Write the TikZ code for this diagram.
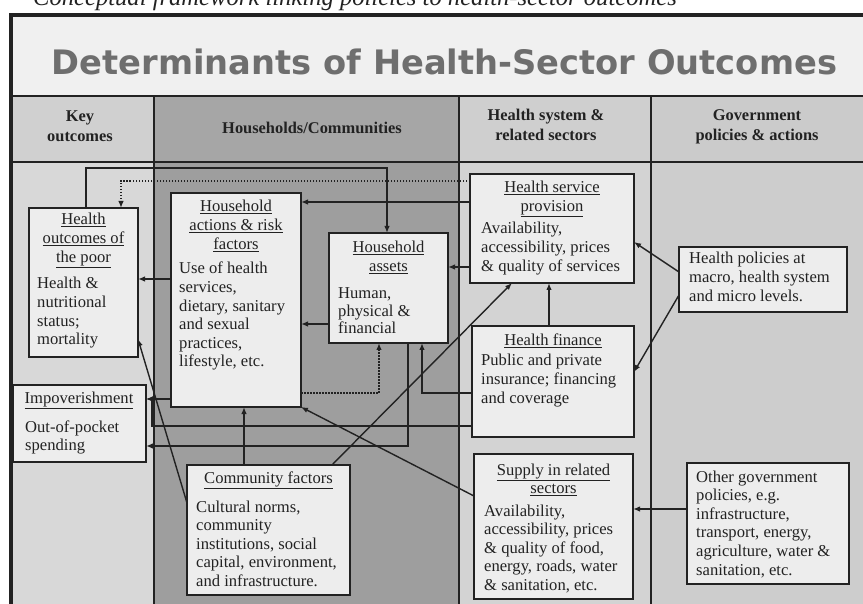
\documentclass[tikz,border=0pt]{standalone}
\usepackage{fontspec}
\setmainfont{Liberation Serif}
\newfontfamily\titlefont{DejaVu Sans}
\usetikzlibrary{arrows.meta}

\definecolor{ink}{HTML}{222222}
\definecolor{titlegray}{HTML}{6E6E6E}
\definecolor{titlebg}{HTML}{F0F0F0}
\definecolor{keycol}{HTML}{D8D8D8}
\definecolor{keyhead}{HTML}{D0D0D0}
\definecolor{hhcol}{HTML}{9E9E9E}
\definecolor{hhhead}{HTML}{A6A6A6}
\definecolor{hscol}{HTML}{D3D3D3}
\definecolor{hshead}{HTML}{CFCFCF}
\definecolor{govcol}{HTML}{CDCDCD}
\definecolor{govhead}{HTML}{CBCBCB}
\definecolor{boxfill}{HTML}{EDEDED}

\tikzset{
  x=1pt, y=-1pt,
  box/.style={draw=ink, line width=1.6pt, fill=boxfill, inner sep=0pt, outer sep=0pt, anchor=north west},
  conn/.style={draw=ink, line width=1.4pt, -{Latex[length=7pt,width=5.5pt]}},
  dotconn/.style={conn, dash pattern=on 1.5pt off 1.5pt},
  bodytxt/.style={inner sep=0pt, anchor=base west, text=ink, font=\fontsize{16.6}{18.6}\selectfont},
  ttltxt/.style={inner sep=0pt, anchor=base, text=ink, font=\fontsize{16.6}{18.6}\selectfont},
  headtxt/.style={inner sep=0pt, anchor=base, text=ink, font=\fontsize{16.4}{19.5}\selectfont\bfseries},
  gridline/.style={draw=ink, line width=1.4pt},
}

\begin{document}
\begin{tikzpicture}
\useasboundingbox (0,0) rectangle (863,604);
\fill[white] (0,0) rectangle (863,604);

% caption (cut off at the top of the picture)
\node[inner sep=0pt, anchor=base west, text=ink, font=\fontsize{24.6}{26}\selectfont\itshape] (caption) at (33,6) {Conceptual framework linking policies to health-sector outcomes};

% backgrounds
\fill[titlebg] (11,15) rectangle (863,96);
\fill[keyhead] (11,96) rectangle (154,162);
\fill[hhhead] (154,96) rectangle (459,162);
\fill[hshead] (459,96) rectangle (651,162);
\fill[govhead] (651,96) rectangle (863,162);
\fill[keycol] (11,162) rectangle (154,604);
\fill[hhcol] (154,162) rectangle (459,604);
\fill[hscol] (459,162) rectangle (651,604);
\fill[govcol] (651,162) rectangle (863,604);

% grid
\draw[gridline] (11,96) -- (863,96);
\draw[gridline] (11,162) -- (863,162);
\draw[gridline] (154,96) -- (154,604);
\draw[gridline] (459,96) -- (459,604);
\draw[gridline] (651,96) -- (651,604);
% frame
\draw[ink, line width=4.5pt] (11,604) -- (11,15) -- (863,15);

% title
\node[inner sep=0pt, anchor=base, text=titlegray, font=\fontsize{33.7}{36}\titlefont\bfseries] (title) at (444.5,75) {Determinants of Health-Sector Outcomes};

% headers
\node[headtxt] (hkey) at (80,122) {\parbox[t]{140pt}{\centering Key\\ outcomes}};
\node[headtxt] (hhh) at (312,134) {Households/Communities};
\node[headtxt] (hhs) at (546,121) {\parbox[t]{190pt}{\centering Health system \&\\ related sectors}};
\node[headtxt] (hgov) at (757,121) {\parbox[t]{210pt}{\centering Government\\ policies \& actions}};

% boxes
\node[box, minimum width=109pt, minimum height=149pt] (HO) at (29,208) {};
\node[box, minimum width=130pt, minimum height=214pt] (HA) at (171,193) {};
\node[box, minimum width=119pt, minimum height=110pt] (AS) at (329,233) {};
\node[box, minimum width=133pt, minimum height=77pt] (IM) at (13,385) {};
\node[box, minimum width=163pt, minimum height=130pt] (CF) at (187,465) {};
\node[box, minimum width=164pt, minimum height=109pt] (HSP) at (470,174) {};
\node[box, minimum width=162pt, minimum height=111pt] (HF) at (472,326) {};
\node[box, minimum width=159pt, minimum height=145pt] (SUP) at (474,454) {};
\node[box, minimum width=168pt, minimum height=65pt] (HP) at (679,247) {};
\node[box, minimum width=162pt, minimum height=121pt] (OG) at (687,463) {};

% box texts
\node[ttltxt] (HOt) at (83.5,225) {\parbox[t]{108pt}{\centering \underline{Health}\\ \underline{outcomes of}\\ \underline{the poor}}};
\node[bodytxt] (HOb) at (37,289) {\parbox[t]{120pt}{\raggedright Health \&\\ nutritional\\ status;\\ mortality}};

\node[ttltxt] (HAt) at (236,212) {\parbox[t]{130pt}{\centering \underline{Household}\\ \underline{actions \& risk}\\ \underline{factors}}};
\node[bodytxt] (HAb) at (179,274) {\parbox[t]{140pt}{\raggedright Use of health\\ services,\\ dietary, sanitary\\ and sexual\\ practices,\\ lifestyle, etc.}};

\node[ttltxt] (ASt) at (388.5,253) {\parbox[t]{119pt}{\centering \underline{Household}\\ \underline{assets}}};
\node[bodytxt, font=\fontsize{16.6}{17.2}\selectfont] (ASb) at (338,299) {\parbox[t]{120pt}{\raggedright Human,\\ physical \&\\ financial}};

\node[ttltxt] (IMt) at (79,403) {\underline{Impoverishment}};
\node[bodytxt] (IMb) at (25,432) {\parbox[t]{130pt}{\raggedright Out-of-pocket\\ spending}};

\node[ttltxt] (CFt) at (268.5,483) {\underline{Community factors}};
\node[bodytxt] (CFb) at (196,512) {\parbox[t]{170pt}{\raggedright Cultural norms,\\ community\\ institutions, social\\ capital, environment,\\ and infrastructure.}};

\node[ttltxt] (HSPt) at (552,193) {\parbox[t]{164pt}{\centering \underline{Health service}\\ \underline{provision}}};
\node[bodytxt] (HSPb) at (481,234) {\parbox[t]{170pt}{\raggedright Availability,\\ accessibility, prices\\ \& quality of services}};

\node[ttltxt] (HFt) at (553,346) {\underline{Health finance}};
\node[bodytxt] (HFb) at (481,366) {\parbox[t]{170pt}{\raggedright Public and private\\ insurance; financing\\ and coverage}};

\node[ttltxt] (SUPt) at (553.5,475) {\parbox[t]{159pt}{\centering \underline{Supply in related}\\ \underline{sectors}}};
\node[bodytxt] (SUPb) at (484,516) {\parbox[t]{170pt}{\raggedright Availability,\\ accessibility, prices\\ \& quality of food,\\ energy, roads, water\\ \& sanitation, etc.}};

\node[bodytxt] (HPb) at (689,264) {\parbox[t]{170pt}{\raggedright Health policies at\\ macro, health system\\ and micro levels.}};

\node[bodytxt] (OGb) at (696,482) {\parbox[t]{170pt}{\raggedright Other government\\ policies, e.g.\\ infrastructure,\\ transport, energy,\\ agriculture, water \&\\ sanitation, etc.}};

% routing coordinates
\coordinate (pa) at (86,168);
\coordinate (pb) at (387,168);
\coordinate (pc) at (121,181);
\coordinate (pd) at (0,202);
\coordinate (pe) at (0,267);
\coordinate (pf) at (0,279);
\coordinate (pg) at (0,324);
\coordinate (ph) at (379,393);
\coordinate (pi) at (422,393);
\coordinate (pj) at (408,446);
\coordinate (pk) at (0,399);
\coordinate (pl) at (152,426);
\coordinate (pm) at (244,0);
\coordinate (pn) at (332,0);
\coordinate (po) at (512,0);
\coordinate (pq) at (0,496);
\coordinate (pr) at (0,503);
\coordinate (ps) at (0,339);
\coordinate (pt) at (549,0);
\coordinate (pu) at (0,272);
\coordinate (pv) at (0,242);
\coordinate (pw) at (0,295);
\coordinate (px) at (0,372);
\coordinate (py) at (0,509);

% connectors
\draw[conn] (pa |- HO.north) -- (pa) -- (pb) -- (pb |- AS.north);
\draw[dotconn] (HSP.west |- pc) -- (pc) -- (pc |- HO.north);
\draw[conn] (HSP.west |- pd) -- (HA.east |- pd);
\draw[conn] (HSP.west |- pe) -- (AS.east |- pe);
\draw[conn] (HA.west |- pf) -- (HO.east |- pf);
\draw[conn] (AS.west |- pg) -- (HA.east |- pg);
\draw[dotconn] (HA.east |- ph) -- (ph) -- (ph |- AS.south);
\draw[conn] (HF.west |- pi) -- (pi) -- (pi |- AS.south);
\draw[conn] (pj |- AS.south) -- (pj) -- (IM.east |- pj);
\draw[conn] (HA.west |- pk) -- (IM.east |- pk);
\draw[conn] (HF.west |- pl) -- (pl) -- (pl |- pk) -- (IM.east |- pk);
\draw[conn] (CF.north -| pm) -- (HA.south -| pm);
\draw[conn] (CF.north -| pn) -- (HSP.south -| po);
\draw[conn] (SUP.west |- pq) -- (HA.south east);
\draw[conn] (CF.west |- pr) -- (HO.east |- ps);
\draw[conn] (HF.north -| pt) -- (HSP.south -| pt);
\draw[conn] (HP.west |- pu) -- (HSP.east |- pv);
\draw[conn] (HP.west |- pw) -- (HF.east |- px);
\draw[conn] (OG.west |- py) -- (SUP.east |- py);
\end{tikzpicture}
\end{document}
